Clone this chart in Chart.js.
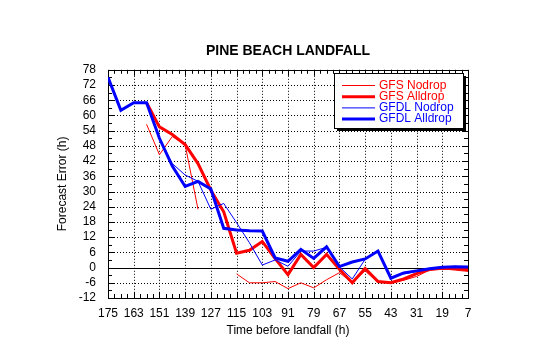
<!DOCTYPE html>
<html>
<head>
<meta charset="utf-8">
<script src="https://cdn.jsdelivr.net/npm/chart.js@4.4.0/dist/chart.umd.min.js"></script>
<style>
  html, body { margin: 0; padding: 0; background: #fff; }
  #wrap { width: 540px; height: 344px; }
</style>
</head>
<body>
<div id="wrap"><canvas id="chart" width="540" height="344"></canvas></div>
<script>
// Hours before landfall, one forecast every 6 h
const hours = [175, 169, 163, 157, 151, 145, 139, 133, 127, 121, 115, 109, 103, 97, 91,
               85, 79, 73, 67, 61, 55, 49, 43, 37, 31, 25, 19, 13, 7];

// Landfall timing error (h); null = no forecast
const gfsNodrop  = [null, null, null, 56.5, 44.5, 51.7, 48.4, 23, null, null, -2.5, -6, -6, -5.5, -8.3,
                    -6, -8, -4.8, -2, -6, -1.3, -5.9, -6, -5, -3.5, -1, -0.5, -1, -1.5];
const gfsAlldrop = [null, null, null, 65, 55.5, 52.5, 48.5, 41, 30.5, 22, 5.7, 6.8, 10.3, 3.5, -2.8,
                    5.2, 0, 5.2, -0.7, -6, -0.3, -5.5, -6, -4.5, -2.4, -0.8, -0.3, -0.4, -0.9];
const gfdlNodrop = [75, 62, 65, 65, 51, 41, 36.5, 34, 23, 25.3, 17.7, 9.8, 1, 3, 0.5,
                    6.5, 6.5, 8, 0.3, -4.5, 3.3, 6.9, -3.9, -2.5, -1.5, -0.7, 0, 0.5, 0];
const gfdlAlldrop = [75, 62, 65, 65, 51, 40, 32, 34, 31, 15.5, 14.8, 14.5, 14.4, 3.8, 2.5,
                     7.2, 3.6, 8.2, 0.4, 2.2, 3.4, 6.5, -4.2, -2.1, -1.3, -0.5, 0.1, 0.3, 0.2];

const xTicks = { min: 7, max: 175, step: 12, minor: 3 };
const yTicks = { min: -12, max: 78, step: 6, minor: 3 };

const FONT = '"Liberation Sans", Arial, Helvetica, sans-serif';

const pts = arr => hours.map((h, i) => ({ x: h, y: arr[i] }));

// dotted grid, zero line, border and inward tick marks on all four sides
const frame = {
  id: 'frame',
  beforeDatasetsDraw(chart) {
    const { ctx, chartArea: a, scales: { x, y } } = chart;
    const px = v => Math.round(x.getPixelForValue(v)) + 0.5;
    const py = v => Math.round(y.getPixelForValue(v)) + 0.5;
    ctx.save();
    ctx.strokeStyle = '#000';
    ctx.lineWidth = 1;

    ctx.setLineDash([1, 2]);
    ctx.beginPath();
    for (let v = xTicks.min + xTicks.step; v < xTicks.max; v += xTicks.step) {
      ctx.moveTo(px(v), a.top); ctx.lineTo(px(v), a.bottom);
    }
    for (let v = yTicks.min + yTicks.step; v < yTicks.max; v += yTicks.step) {
      ctx.moveTo(a.left, py(v)); ctx.lineTo(a.right, py(v));
    }
    ctx.stroke();
    ctx.setLineDash([]);

    ctx.beginPath();
    ctx.moveTo(a.left, py(0)); ctx.lineTo(a.right, py(0));
    ctx.stroke();

    ctx.beginPath();
    for (let v = xTicks.min; v <= xTicks.max; v += xTicks.minor) {
      const len = (v - xTicks.min) % xTicks.step === 0 ? 6 : 4;
      ctx.moveTo(px(v), a.bottom); ctx.lineTo(px(v), a.bottom - len);
      ctx.moveTo(px(v), a.top); ctx.lineTo(px(v), a.top + len);
    }
    for (let v = yTicks.min; v <= yTicks.max; v += yTicks.minor) {
      const len = (v - yTicks.min) % yTicks.step === 0 ? 6 : 4;
      ctx.moveTo(a.left, py(v)); ctx.lineTo(a.left + len, py(v));
      ctx.moveTo(a.right, py(v)); ctx.lineTo(a.right - len, py(v));
    }
    ctx.stroke();

    ctx.strokeRect(Math.round(a.left) + 0.5, Math.round(a.top) + 0.5,
                   Math.round(a.right - a.left), Math.round(a.bottom - a.top));
    ctx.restore();
  }
};

// boxed key with a drop shadow, inside the plot at top right
const keyBox = {
  id: 'keyBox',
  afterDatasetsDraw(chart) {
    const { ctx } = chart;
    const box = { l: 334, t: 73, w: 129, h: 55 };
    ctx.save();
    ctx.fillStyle = '#000';
    ctx.fillRect(box.l + 3, box.t + 3, box.w, box.h);
    ctx.fillStyle = '#fff';
    ctx.fillRect(box.l, box.t, box.w, box.h);
    ctx.strokeStyle = '#000';
    ctx.lineWidth = 1;
    ctx.strokeRect(box.l + 0.5, box.t + 0.5, box.w, box.h);

    ctx.font = '12px ' + FONT;
    ctx.textBaseline = 'middle';
    ctx.textAlign = 'left';
    chart.data.datasets.forEach((ds, i) => {
      const yy = 85.5 + i * 11.2;
      ctx.strokeStyle = ds.borderColor;
      ctx.lineWidth = ds.borderWidth;
      ctx.beginPath();
      ctx.moveTo(342, yy); ctx.lineTo(375, yy);
      ctx.stroke();
      ctx.fillStyle = ds.borderColor;
      ctx.fillText(ds.label, 379, yy);
    });
    ctx.restore();
  }
};

const line = (label, data, color, width, order) => ({
  label, data: pts(data), borderColor: color, backgroundColor: color,
  borderWidth: width, pointRadius: 0, tension: 0, spanGaps: false, order
});

new Chart(document.getElementById('chart'), {
  type: 'line',
  data: {
    datasets: [
      line('GFS Nodrop', gfsNodrop, '#ff0000', 1, 4),
      line('GFS Alldrop', gfsAlldrop, '#ff0000', 3, 3),
      line('GFDL Nodrop', gfdlNodrop, '#0000ff', 1, 2),
      line('GFDL Alldrop', gfdlAlldrop, '#0000ff', 3, 1)
    ]
  },
  options: {
    responsive: false,
    animation: false,
    devicePixelRatio: 1,
    events: [],
    layout: { padding: { top: 0, right: 72, bottom: 0, left: 0 } },
    plugins: {
      legend: { display: false },
      tooltip: { enabled: false },
      title: {
        display: true,
        text: 'PINE BEACH LANDFALL',
        fullSize: false,
        color: '#000',
        font: { family: FONT, size: 14, weight: 'bold' },
        padding: { top: 43, bottom: 10 }
      }
    },
    scales: {
      x: {
        type: 'linear',
        reverse: true,
        min: xTicks.min,
        max: xTicks.max,
        afterFit: s => { s.height = 46; },
        grid: { display: false, drawTicks: false },
        border: { display: false },
        ticks: {
          stepSize: xTicks.step,
          autoSkip: false,
          color: '#000',
          padding: 8,
          maxRotation: 0,
          font: { family: FONT, size: 12 }
        },
        title: {
          display: true,
          text: 'Time before landfall (h)',
          color: '#000',
          font: { family: FONT, size: 12 },
          padding: { top: 0, bottom: 6 }
        }
      },
      y: {
        min: yTicks.min,
        max: yTicks.max,
        afterFit: s => { s.width = 108; },
        grid: { display: false, drawTicks: false },
        border: { display: false },
        ticks: {
          stepSize: yTicks.step,
          autoSkip: false,
          color: '#000',
          padding: 12,
          font: { family: FONT, size: 12 }
        },
        title: {
          display: true,
          text: 'Forecast Error (h)',
          color: '#000',
          font: { family: FONT, size: 12 },
          padding: { top: 55, bottom: 0 }
        }
      }
    }
  },
  plugins: [frame, keyBox]
});
</script>
</body>
</html>
